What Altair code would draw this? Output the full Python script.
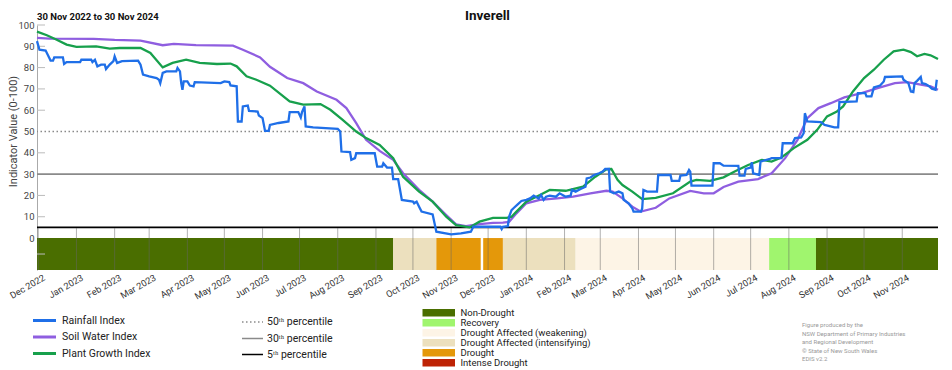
import altair as alt
import pandas as pd

FONT = "Roboto"

# ---------------- data ----------------
soil_dates = ["2022-11-30","2022-12-10","2023-01-15","2023-02-01","2023-02-22","2023-03-12","2023-03-21","2023-04-08",
              "2023-05-08","2023-05-16","2023-05-30","2023-06-07","2023-06-21","2023-07-04","2023-07-15","2023-07-31",
              "2023-08-08","2023-08-16","2023-08-24","2023-09-04","2023-09-15","2023-09-23","2023-10-06","2023-10-17",
              "2023-10-28","2023-11-05","2023-11-13","2023-11-24","2023-12-05","2023-12-13","2023-12-18","2023-12-24",
              "2024-01-01","2024-01-12","2024-01-26","2024-02-08","2024-02-22","2024-03-06","2024-03-11","2024-03-19",
              "2024-03-27","2024-04-03","2024-04-15","2024-04-26","2024-05-13","2024-05-24","2024-06-01","2024-06-09",
              "2024-06-21","2024-07-07","2024-07-18","2024-07-29","2024-08-08","2024-08-16","2024-08-25","2024-09-04",
              "2024-09-15","2024-09-29","2024-10-12","2024-10-26","2024-11-05","2024-11-16","2024-11-24","2024-11-30"]
soil_values = [94.0,93.6,93.5,93.0,92.7,90.5,91.1,90.6,
               90.3,88.4,84.8,80.4,75.1,72.7,68.8,64.9,
               61.0,53.9,46.1,40.9,36.7,30.4,22.6,17.1,
               10.8,6.4,5.6,6.5,7.1,7.2,7.6,11.6,
               16.3,17.9,18.6,19.4,21.0,22.2,21.8,18.6,
               14.7,12.4,14.2,18.6,22.1,21.0,21.0,24.0,
               26.5,27.7,30.4,37.5,46.1,56.3,61.0,63.3,
               66.0,68.0,70.4,72.7,73.2,72.0,71.2,69.6]

plant_dates = ["2022-11-30","2022-12-08","2022-12-16","2022-12-24","2023-01-01","2023-01-17","2023-01-28","2023-02-05",
               "2023-02-22","2023-03-02","2023-03-12","2023-03-20","2023-03-31","2023-04-11","2023-04-25","2023-05-06",
               "2023-05-11","2023-05-19","2023-05-27","2023-06-07","2023-06-23","2023-07-04","2023-07-18","2023-07-26",
               "2023-08-05","2023-08-16","2023-08-24","2023-09-04","2023-09-15","2023-09-23","2023-10-06","2023-10-17",
               "2023-10-28","2023-11-05","2023-11-16","2023-11-24","2023-12-05","2023-12-16","2023-12-20","2023-12-24",
               "2024-01-01","2024-01-12","2024-01-20","2024-02-02","2024-02-16","2024-02-26","2024-03-06","2024-03-10",
               "2024-03-15","2024-03-19","2024-03-27","2024-04-04","2024-04-15","2024-04-29","2024-05-13","2024-05-18",
               "2024-05-29","2024-06-09","2024-06-18","2024-06-29","2024-07-10","2024-07-18","2024-07-26","2024-08-05",
               "2024-08-16","2024-08-24","2024-09-01","2024-09-09","2024-09-14","2024-09-22","2024-10-01","2024-10-09",
               "2024-10-17","2024-10-25","2024-11-02","2024-11-08","2024-11-13","2024-11-19","2024-11-24","2024-11-30"]
plant_values = [96.9,95.2,93.1,90.8,89.7,90.0,88.9,89.2,
                89.2,86.9,80.1,82.2,83.7,82.2,81.7,81.9,
                80.6,75.9,74.3,71.5,64.1,62.6,62.9,60.2,
                55.5,50.0,46.9,43.7,37.5,28.8,21.8,17.1,
                10.0,6.1,5.0,7.7,9.5,9.5,10.0,12.4,
                17.1,20.2,22.6,22.2,24.1,28.8,32.3,32.4,
                27.3,24.9,21.8,18.3,18.9,21.0,26.5,27.3,
                26.8,28.5,31.2,34.3,36.7,35.9,37.8,42.2,
                46.1,50.8,57.1,59.4,61.8,68.8,75.1,79.0,
                83.7,87.6,88.4,87.3,85.3,86.4,85.8,84.0]

rain_dates = ["2022-11-30","2022-12-02","2022-12-07","2022-12-10","2022-12-11","2022-12-13","2022-12-14","2022-12-21",
              "2022-12-22","2022-12-24","2023-01-04","2023-01-05","2023-01-13","2023-01-14","2023-01-16","2023-01-18",
              "2023-01-21","2023-01-24","2023-01-25","2023-01-28","2023-01-31","2023-02-01","2023-02-03","2023-02-07",
              "2023-02-20","2023-02-22","2023-02-24","2023-03-01","2023-03-07","2023-03-09","2023-03-10","2023-03-12",
              "2023-03-15","2023-03-23","2023-03-24","2023-03-26","2023-03-27","2023-03-28","2023-03-29","2023-04-01",
              "2023-04-03","2023-04-06","2023-04-07","2023-04-28","2023-05-01","2023-05-05","2023-05-06","2023-05-11",
              "2023-05-12","2023-05-15","2023-05-16","2023-05-20","2023-05-21","2023-05-28","2023-05-29","2023-06-01",
              "2023-06-03","2023-06-06","2023-06-07","2023-06-14","2023-06-22","2023-06-23","2023-06-30","2023-07-02",
              "2023-07-03","2023-07-05","2023-07-06","2023-07-12","2023-08-01","2023-08-03","2023-08-04","2023-08-11",
              "2023-08-12","2023-08-15","2023-08-16","2023-08-31","2023-09-02","2023-09-06","2023-09-07","2023-09-10",
              "2023-09-14","2023-09-15","2023-09-19","2023-09-22","2023-10-01","2023-10-02","2023-10-04","2023-10-06",
              "2023-10-08","2023-10-17","2023-10-20","2023-11-01","2023-11-09","2023-11-17","2023-11-19","2023-12-11",
              "2023-12-12","2023-12-13","2023-12-17","2023-12-18","2023-12-20","2023-12-22","2023-12-25","2023-12-28",
              "2024-01-01","2024-01-04","2024-01-07","2024-01-11","2024-01-13","2024-01-15","2024-01-17","2024-01-20",
              "2024-01-25","2024-01-28","2024-02-02","2024-02-06","2024-02-07","2024-02-10","2024-02-14","2024-02-18",
              "2024-02-19","2024-02-22","2024-02-25","2024-02-29","2024-03-03","2024-03-05","2024-03-08","2024-03-09",
              "2024-03-12","2024-03-16","2024-03-19","2024-03-20","2024-03-24","2024-03-27","2024-03-28","2024-04-03",
              "2024-04-04","2024-04-05","2024-04-08","2024-04-16","2024-04-17","2024-04-27","2024-04-28","2024-05-04",
              "2024-05-05","2024-05-10","2024-05-12","2024-05-13","2024-05-14","2024-05-31","2024-06-01","2024-06-06",
              "2024-06-09","2024-06-21","2024-06-22","2024-06-26","2024-06-27","2024-07-01","2024-07-02","2024-07-03",
              "2024-07-08","2024-07-09","2024-07-16","2024-07-18","2024-07-26","2024-07-27","2024-08-04","2024-08-06",
              "2024-08-11","2024-08-13","2024-08-14","2024-08-16","2024-08-27","2024-08-30","2024-09-07","2024-09-10",
              "2024-09-11","2024-09-25","2024-09-26","2024-10-02","2024-10-03","2024-10-07","2024-10-09","2024-10-14",
              "2024-10-17","2024-10-18","2024-11-01","2024-11-02","2024-11-06","2024-11-08","2024-11-10","2024-11-11",
              "2024-11-13","2024-11-16","2024-11-17","2024-11-20","2024-11-23","2024-11-25","2024-11-28","2024-11-29"]
rain_values = [92.4,88.4,88.0,84.5,83.3,83.3,84.8,84.8,
               81.7,82.6,82.6,83.7,83.7,82.6,83.7,80.6,
               81.4,81.4,79.3,81.4,83.0,85.3,82.2,83.0,
               83.3,81.4,76.7,75.9,75.1,74.3,72.7,77.5,
               78.2,78.2,79.8,78.2,72.7,69.6,73.5,73.5,
               71.6,71.2,73.2,72.7,73.5,73.2,71.6,71.2,
               54.7,54.7,61.8,62.2,59.7,59.4,57.5,56.3,
               50.3,50.3,53.1,54.0,54.7,59.1,59.1,56.6,
               59.1,61.8,52.4,51.9,51.3,50.0,40.6,40.3,
               36.7,37.5,39.8,39.8,33.5,33.5,35.1,33.1,
               33.1,27.7,27.7,17.9,17.1,16.3,17.1,14.7,
               12.4,11.1,3.0,1.7,2.2,3.0,5.3,5.3,
               4.2,5.3,5.6,10.0,13.1,14.2,15.8,17.4,
               17.9,18.6,19.9,18.6,20.2,17.9,19.4,19.9,
               19.4,21.0,19.4,19.9,22.6,21.8,23.0,24.1,
               28.0,28.4,29.6,30.4,31.2,32.4,32.4,21.8,
               21.0,21.8,21.0,17.9,16.3,13.9,12.4,12.4,
               13.9,22.6,21.8,21.8,29.6,29.6,26.8,26.8,
               29.3,29.6,32.0,31.2,24.6,24.6,35.1,35.1,
               34.0,33.9,29.3,29.3,32.4,33.1,35.6,30.4,
               29.6,35.9,37.0,37.5,37.5,44.5,44.5,46.9,
               47.2,49.2,58.6,54.7,54.4,53.1,51.9,51.9,
               63.8,64.1,68.0,68.0,66.5,66.5,70.7,71.6,
               73.5,75.6,75.9,74.3,72.7,68.8,68.5,72.7,
               73.8,75.6,72.7,72.3,71.2,70.1,69.6,74.3]

series_names = ["Rainfall Index", "Soil Water Index", "Plant Growth Index"]
series_colors = ["#1f6fe8", "#8f5ee0", "#17a04c"]

cat_names = ["Non-Drought", "Recovery", "Drought Affected (weakening)",
             "Drought Affected (intensifying)", "Drought", "Intense Drought"]
cat_colors = ["#4a6e00", "#a0f56e", "#fdf4e6", "#ece0be", "#e4980a", "#be2305"]

band_starts = ["2022-11-30", "2023-09-15", "2023-10-20", "2023-11-27", "2023-12-13", "2024-02-10", "2024-07-16", "2024-08-23"]
band_ends   = ["2023-09-15", "2023-10-20", "2023-11-25", "2023-12-13", "2024-02-10", "2024-07-16", "2024-08-23", "2024-11-30"]
band_cats   = ["Non-Drought", "Drought Affected (intensifying)", "Drought", "Drought",
               "Drought Affected (intensifying)", "Drought Affected (weakening)", "Recovery", "Non-Drought"]

pct_labels = ["50\u1d57\u02b0 percentile", "30\u1d57\u02b0 percentile", "5\u1d57\u02b0 percentile"]
pct_values = [50, 30, 5]

y_tick_values = [0, 10, 20, 30, 40, 50, 60, 70, 80, 90, 100]
inner_tick_values = [-7.5, 10, 20, 40, 60, 70, 80, 90, 100]

month_starts = [d.strftime("%Y-%m-%d") for d in pd.date_range("2022-12-01", "2024-11-01", freq="MS")]

title_text = ["Inverell"]
subtitle_text = ["30 Nov 2022 to 30 Nov 2024"]
footnote_text = ["Figure produced by the\nNSW Department of Primary Industries\nand Regional Development\n\u00a9 State of New South Wales\nEDIS v2.2"]

# ---------------- tables ----------------
lines_df = pd.concat([
    pd.DataFrame({"date": soil_dates, "value": soil_values, "series": "Soil Water Index"}),
    pd.DataFrame({"date": plant_dates, "value": plant_values, "series": "Plant Growth Index"}),
    pd.DataFrame({"date": rain_dates, "value": rain_values, "series": "Rainfall Index"}),
], ignore_index=True)
band_df = pd.DataFrame({"date": band_starts, "end": band_ends, "category": band_cats})
pct_df = pd.DataFrame({"label": pct_labels, "value": pct_values})
months_df = pd.DataFrame({"date": month_starts})
inner_df = pd.DataFrame({"value": inner_tick_values})

# ---------------- shared scales / axes ----------------
x_scale = alt.Scale(domain=[alt.DateTime(year=2022, month=11, date=30),
                            alt.DateTime(year=2024, month=11, date=30)])
y_scale = alt.Scale(domain=[-15, 100], nice=False, zero=False)

x_axis = alt.Axis(format="%b %Y", labelAngle=330, labelAlign="right", labelBaseline="top",
                  labelPadding=3, labelOffset=3.5, labelFontSize=9.2, labelColor="#333", labelFont=FONT,
                  ticks=False, domain=False, grid=False, labelOverlap=False, labelFlush=False,
                  tickCount={"interval": "month", "step": 1}, title=None)
y_axis = alt.Axis(values=y_tick_values, title="Indicator Value (0-100)", titleX=-24, titleY=106,
                  titleAngle=270, titleAlign="center", titleBaseline="middle",
                  titleFontWeight="normal", titleFontSize=11, titleColor="#444", titleFont=FONT,
                  labelFontSize=9.5, labelColor="#444", labelFont=FONT, labelPadding=3,
                  ticks=False, grid=False, domainColor="#aaaaaa", domainWidth=1)

X = lambda f: alt.X(f, scale=x_scale, axis=x_axis)
Y = lambda f: alt.Y(f, scale=y_scale, axis=y_axis)

# ---------------- layers ----------------
band = alt.Chart(band_df).mark_rect().encode(
    x=X("date:T"), x2="end:T",
    y=alt.YDatum(0, scale=y_scale, axis=y_axis), y2=alt.Y2Datum(-15),
    fill=alt.Fill("category:N", scale=alt.Scale(domain=cat_names, range=cat_colors),
                  legend=alt.Legend(orient="none", legendX=397, legendY=283, title=None,
                                    symbolType="M-4,-0.9H4V0.9H-4Z", symbolSize=66,
                                    symbolStrokeWidth=0, labelFontSize=9.5, labelFont=FONT,
                                    labelColor="#222", rowPadding=-2.3, labelOffset=17, padding=0)),
)

grid = alt.Chart(months_df).mark_rule(color="#666", opacity=0.5, strokeWidth=1).encode(
    x=X("date:T"), y=alt.YDatum(-15, scale=y_scale, axis=y_axis), y2=alt.Y2Datum(4.6)
)

inner_ticks = alt.Chart(inner_df).mark_rule(color="#bbbbbb", strokeWidth=1).encode(
    y=Y("value:Q"), x=alt.value(0), x2=alt.value(8)
)

pct_legend = dict(orient="none", legendX=209, legendY=291, title=None,
                  symbolType="M-2,0H2", symbolSize=110, symbolStrokeWidth=2.5,
                  labelFontSize=10.5, labelFont=FONT, labelColor="#222",
                  rowPadding=4, labelOffset=8, padding=0)
pct = alt.Chart(pct_df).mark_rule().encode(
    y=Y("value:Q"),
    stroke=alt.Stroke("label:N", scale=alt.Scale(domain=pct_labels, range=["#8a8a8a", "#8a8a8a", "#000000"]),
                      legend=alt.Legend(**pct_legend)),
    strokeDash=alt.StrokeDash("label:N", scale=alt.Scale(domain=pct_labels, range=[[1.5, 2.5], [1, 0], [1, 0]]),
                              legend=alt.Legend(**pct_legend)),
    strokeWidth=alt.StrokeWidth("label:N", scale=alt.Scale(domain=pct_labels, range=[1.5, 1.6, 2.2]),
                                legend=None),
)

lines = alt.Chart(lines_df).mark_line(strokeWidth=2.3, interpolate="linear").encode(
    x=X("date:T"), y=Y("value:Q"),
    color=alt.Color("series:N", scale=alt.Scale(domain=series_names, range=series_colors),
                    legend=alt.Legend(orient="none", legendX=0, legendY=288, title=None,
                                      symbolType="M-2,0H2", symbolSize=132, symbolStrokeWidth=3,
                                      labelFontSize=10.5, labelFont=FONT, labelColor="#222",
                                      rowPadding=2.5, labelOffset=10, padding=0)),
    detail="series:N",
)

title = alt.Chart(pd.DataFrame({"t": title_text})).mark_text(
    align="center", baseline="middle", fontWeight="bold", fontSize=13.5, font=FONT, color="#111"
).encode(x=alt.value(450.5), y=alt.value(-9), text="t:N")

subtitle = alt.Chart(pd.DataFrame({"t": subtitle_text})).mark_text(
    align="left", baseline="middle", fontWeight="bold", fontSize=9.5, font=FONT, color="#111"
).encode(x=alt.value(0), y=alt.value(-8), text="t:N")

footnote = alt.Chart(pd.DataFrame({"t": footnote_text})).mark_text(
    align="left", baseline="top", fontSize=6, font=FONT, color="#999", lineBreak="\n", lineHeight=8.5
).encode(x=alt.value(765), y=alt.value(297), text="t:N")

chart = alt.layer(band, grid, inner_ticks, pct, lines, title, subtitle, footnote).properties(
    width=901, height=245,
    padding={"left": 29, "top": 17, "right": 6, "bottom": 100},
    autosize=alt.AutoSizeParams(type="none"),
).configure_view(strokeWidth=0)

chart.save("out.html", embed_options={"renderer": "svg", "actions": False})
